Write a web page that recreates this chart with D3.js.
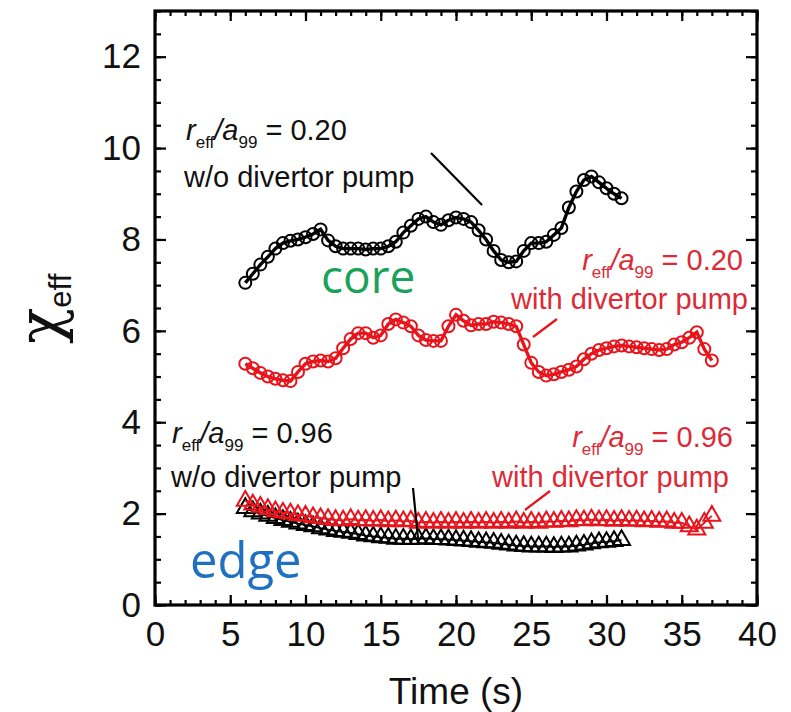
<!DOCTYPE html>
<html>
<head>
<meta charset="utf-8">
<script src="https://cdn.jsdelivr.net/npm/d3@7"></script>
<style>
  html, body { margin: 0; padding: 0; background: #fff; }
  svg { display: block; }
  text { font-family: "Liberation Sans", Arial, Helvetica, sans-serif; }
</style>
</head>
<body>
<svg id="chart" width="791" height="712"></svg>
<script>
// χ_eff time traces at r_eff/a_99 = 0.20 (core) and 0.96 (edge)
const coreNoPumpTime = d3.range(6, 31.01, 0.5);
const coreNoPump = [
  7.05, 7.25, 7.45, 7.62, 7.80, 7.92, 7.97, 8.00, 8.05, 8.12,
  8.22, 7.98, 7.85, 7.80, 7.80, 7.80, 7.78, 7.80, 7.80, 7.85,
  7.95, 8.15, 8.30, 8.45, 8.50, 8.38, 8.32, 8.42, 8.48, 8.45,
  8.38, 8.20, 8.00, 7.75, 7.55, 7.50, 7.52, 7.75, 7.92, 7.92,
  7.95, 8.10, 8.25, 8.70, 9.05, 9.30, 9.38, 9.25, 9.12, 9.00,
  8.90
];

const corePumpTime = d3.range(6, 37.01, 0.5);
const corePump = [
  5.28, 5.18, 5.08, 5.00, 4.95, 4.92, 4.90, 5.10, 5.28, 5.33,
  5.35, 5.33, 5.40, 5.62, 5.82, 5.95, 5.95, 5.85, 5.90, 6.15,
  6.25, 6.18, 6.10, 5.90, 5.80, 5.78, 5.78, 6.10, 6.35, 6.22,
  6.12, 6.15, 6.15, 6.20, 6.18, 6.15, 6.10, 5.70, 5.30, 5.10,
  5.02, 5.05, 5.10, 5.15, 5.22, 5.38, 5.50, 5.58, 5.62, 5.66,
  5.68, 5.66, 5.64, 5.62, 5.60, 5.58, 5.60, 5.70, 5.75, 5.85,
  5.97, 5.60, 5.35
];

const edgeNoPumpTime = d3.range(6, 31.01, 0.5);
const edgeNoPump = [
  2.12, 2.05, 2.00, 1.95, 1.90, 1.86, 1.82, 1.78, 1.75, 1.72,
  1.68, 1.65, 1.62, 1.60, 1.58, 1.55, 1.52, 1.50, 1.48, 1.47,
  1.45, 1.45, 1.44, 1.45, 1.46, 1.44, 1.44, 1.43, 1.42, 1.41,
  1.40, 1.38, 1.37, 1.36, 1.34, 1.32, 1.30, 1.29, 1.28, 1.28,
  1.28, 1.27, 1.28, 1.28, 1.30, 1.32, 1.35, 1.37, 1.38, 1.40,
  1.42
];

const edgePumpTime = d3.range(6, 37.01, 0.5);
const edgePump = [
  2.28, 2.20, 2.15, 2.10, 2.05, 2.02, 2.00, 1.97, 1.95, 1.92,
  1.90, 1.88, 1.86, 1.85, 1.88, 1.85, 1.86, 1.84, 1.86, 1.83,
  1.85, 1.83, 1.84, 1.80, 1.82, 1.80, 1.82, 1.80, 1.82, 1.80,
  1.82, 1.80, 1.82, 1.80, 1.82, 1.80, 1.83, 1.80, 1.82, 1.80,
  1.83, 1.82, 1.84, 1.83, 1.86, 1.85, 1.87, 1.85, 1.86, 1.84,
  1.86, 1.84, 1.85, 1.83, 1.84, 1.82, 1.83, 1.80, 1.80, 1.72,
  1.65, 1.80, 1.95
];

const xMajorTicks = [0, 5, 10, 15, 20, 25, 30, 35, 40];
const yMajorTicks = [0, 2, 4, 6, 8, 10, 12];

const RED = "#e8141c";
const RED_TEXT = "#dc2a36";

const svg = d3.select("#chart");
const L = 155, R = 757, T = 11, B = 605;

const x = d3.scaleLinear().domain([0, 40]).range([L, R]);
const y = d3.scaleLinear().domain([0, 13]).range([B, T]);

// ---- axes: inward ticks on all four sides ----
function styleAxis(g) {
  g.select(".domain").remove();
  g.selectAll(".tick line").attr("stroke", "#000").attr("stroke-width", 2.2);
  g.selectAll(".tick text").attr("fill", "#111").attr("font-size", 35)
    .style("font-family", "'Liberation Sans', Arial, sans-serif");
}
const fmt = d3.format("d");

svg.append("g").attr("transform", `translate(0,${B})`)
  .call(d3.axisBottom(x).tickValues(d3.range(0, 41, 1)).tickSize(-5).tickFormat(""))
  .call(styleAxis);
svg.append("g").attr("transform", `translate(0,${B})`)
  .call(d3.axisBottom(x).tickValues(xMajorTicks).tickSize(-10).tickPadding(16).tickFormat(fmt))
  .call(styleAxis);
svg.append("g").attr("transform", `translate(0,${T})`)
  .call(d3.axisTop(x).tickValues(d3.range(0, 41, 1)).tickSize(-5).tickFormat(""))
  .call(styleAxis);
svg.append("g").attr("transform", `translate(0,${T})`)
  .call(d3.axisTop(x).tickValues(xMajorTicks).tickSize(-10).tickFormat(""))
  .call(styleAxis);

svg.append("g").attr("transform", `translate(${L},0)`)
  .call(d3.axisLeft(y).tickValues(d3.range(0, 13.01, 0.5)).tickSize(-6).tickFormat(""))
  .call(styleAxis);
svg.append("g").attr("transform", `translate(${L},0)`)
  .call(d3.axisLeft(y).tickValues(yMajorTicks).tickSize(-11).tickPadding(14).tickFormat(fmt))
  .call(styleAxis);
svg.append("g").attr("transform", `translate(${R},0)`)
  .call(d3.axisRight(y).tickValues(d3.range(0, 13.01, 0.5)).tickSize(-6).tickFormat(""))
  .call(styleAxis);
svg.append("g").attr("transform", `translate(${R},0)`)
  .call(d3.axisRight(y).tickValues(yMajorTicks).tickSize(-11).tickFormat(""))
  .call(styleAxis);

// frame
svg.append("rect").attr("x", L).attr("y", T).attr("width", R - L).attr("height", B - T)
  .attr("fill", "none").attr("stroke", "#000").attr("stroke-width", 3.2);

// ---- axis titles ----
svg.append("text").attr("x", (L + R) / 2).attr("y", 704).attr("text-anchor", "middle")
  .attr("font-size", 37).attr("fill", "#111").text("Time (s)");

const yTitle = svg.append("text").attr("transform", "translate(61,344) rotate(-90)")
  .attr("fill", "#111");
yTitle.append("tspan").style("font-family", "'DejaVu Serif', 'Liberation Serif', serif")
  .attr("font-size", 60).text("χ");
yTitle.append("tspan").attr("font-size", 31).attr("dy", 10).text("eff");

// ---- series ----
const line = d3.line().x(d => x(d[0])).y(d => y(d[1]));
const pairs = (t, v) => t.map((ti, i) => [ti, v[i]]);

const plot = svg.append("g");

function triangles(t, v, color) {
  const pts = pairs(t, v);
  plot.append("path").datum(pts).attr("d", line)
    .attr("fill", "none").attr("stroke", color).attr("stroke-width", 1.8);
  plot.append("g").selectAll("path").data(pts).join("path")
    .attr("transform", d => `translate(${x(d[0])},${y(d[1])})`)
    .attr("d", d3.symbol(d3.symbolTriangle, 125))
    .attr("fill", "none").attr("stroke", color).attr("stroke-width", 2);
}
function circles(t, v, color) {
  const pts = pairs(t, v);
  plot.append("path").datum(pts).attr("d", line)
    .attr("fill", "none").attr("stroke", color).attr("stroke-width", 3.4);
  plot.append("g").selectAll("circle").data(pts).join("circle")
    .attr("cx", d => x(d[0])).attr("cy", d => y(d[1])).attr("r", 6)
    .attr("fill", "none").attr("stroke", color).attr("stroke-width", 2);
}

triangles(edgeNoPumpTime, edgeNoPump, "#000");
triangles(edgePumpTime, edgePump, RED);
circles(coreNoPumpTime, coreNoPump, "#000");
circles(corePumpTime, corePump, RED);

// ---- annotations ----
function ratioLabel(px, py, value, color, anchor) {
  const t = svg.append("text").attr("x", px).attr("y", py).attr("fill", color)
    .attr("font-size", 29).attr("text-anchor", anchor);
  t.append("tspan").attr("font-style", "italic").text("r");
  t.append("tspan").attr("font-size", 17).attr("dy", 8).text("eff");
  t.append("tspan").attr("dy", -8).attr("font-style", "italic").text("/a");
  t.append("tspan").attr("font-size", 17).attr("dy", 8).text("99");
  t.append("tspan").attr("dy", -8).text(" = " + value);
}
function plainLabel(px, py, str, color, anchor) {
  svg.append("text").attr("x", px).attr("y", py).attr("fill", color)
    .attr("font-size", 29).attr("text-anchor", anchor).text(str);
}
function leader(x1, y1, x2, y2, color) {
  svg.append("line").attr("x1", x1).attr("y1", y1).attr("x2", x2).attr("y2", y2)
    .attr("stroke", color).attr("stroke-width", 2.2);
}

ratioLabel(186, 140, "0.20", "#111", "start");
plainLabel(184, 187, "w/o divertor pump", "#111", "start");
leader(431, 153, 482, 205, "#000");

ratioLabel(743, 270, "0.20", RED_TEXT, "end");
plainLabel(748, 309, "with divertor pump", RED_TEXT, "end");
leader(557, 319, 533, 337, RED);

ratioLabel(172, 443, "0.96", "#111", "start");
plainLabel(171, 487, "w/o divertor pump", "#111", "start");
leader(413, 488, 418, 538, "#000");

ratioLabel(733, 447, "0.96", RED_TEXT, "end");
plainLabel(729, 487, "with divertor pump", RED_TEXT, "end");
leader(550, 491, 525, 510, RED);

svg.append("text").attr("x", 321).attr("y", 293).attr("fill", "#1aa15a")
  .style("font-family", "'Open Sans', sans-serif").attr("font-size", 46).text("core");
svg.append("text").attr("x", 190).attr("y", 578).attr("fill", "#1f70c1")
  .style("font-family", "'Open Sans', sans-serif").attr("font-size", 49).text("edge");
</script>
</body>
</html>
